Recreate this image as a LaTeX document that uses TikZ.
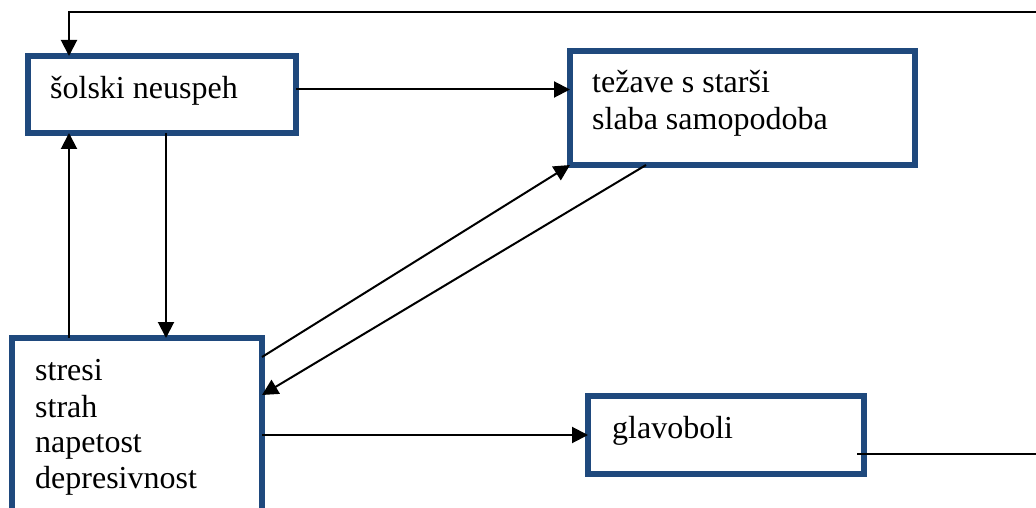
\documentclass[tikz,border=0pt]{standalone}
\usepackage{fontspec}
\setmainfont{Liberation Serif}
\usetikzlibrary{arrows.meta}
\definecolor{boxblue}{RGB}{31,73,125}
\tikzset{
  box/.style={draw=boxblue, line width=6pt, fill=white, inner sep=0pt, outer sep=0pt, rectangle},
  lbl/.style={anchor=base west, inner sep=0pt, font=\fontsize{32}{36}\selectfont},
  arr/.style={draw=black, line width=2pt, -{Triangle[length=16pt,width=16pt]}},
  ln/.style={draw=black, line width=2pt}
}
\begin{document}
\begin{tikzpicture}[x=1pt,y=-1pt]
\useasboundingbox (0,0) rectangle (1036,508);
\clip (0,0) rectangle (1036,508);
\fill[white] (0,0) rectangle (1036,508);
% boxes
\node[box, minimum width=268pt, minimum height=77pt] (a) at (162,94.5) {};
\node[box, minimum width=345pt, minimum height=114pt] (b) at (742.5,108) {};
\node[box, minimum width=250pt, minimum height=182pt] (c) at (137,429) {};
\node[box, minimum width=276pt, minimum height=78pt] (d) at (726,435) {};
% texts
\node[lbl] (ta) at (50,99) {šolski neuspeh};
\node[lbl] (tb1) at (592,93) {težave s starši};
\node[lbl] (tb2) at (592,130) {slaba samopodoba};
\node[lbl] (tc1) at (35,380) {stresi};
\node[lbl] (tc2) at (35,417) {strah};
\node[lbl] (tc3) at (35,452) {napetost};
\node[lbl] (tc4) at (35,488) {depresivnost};
\node[lbl] (td) at (612,438) {glavoboli};
% free ends
\coordinate (r1) at (1040,12);
\coordinate (r2) at (1040,454);
% connectors
\draw[arr] (r1) -| ([xshift=41pt]a.north west);
\draw[arr] ([yshift=5pt]a.east) -- ([yshift=5pt]a.east -| b.west);
\draw[arr] ([xshift=4pt]a.south) -- ([xshift=4pt]a.south |- c.north);
\draw[arr] ([xshift=57pt]c.north west) -- ([xshift=57pt]c.north west |- a.south);
\draw[arr] ([yshift=-19pt]c.north east) -- (b.south west);
\draw[arr] ([xshift=76pt]b.south west) -- ([yshift=-57pt]c.north east);
\draw[arr] (d.west -| c.east) -- (d.west);
\draw[ln] ([xshift=-7pt,yshift=-19pt]d.east) -- (r2);
\end{tikzpicture}
\end{document}
